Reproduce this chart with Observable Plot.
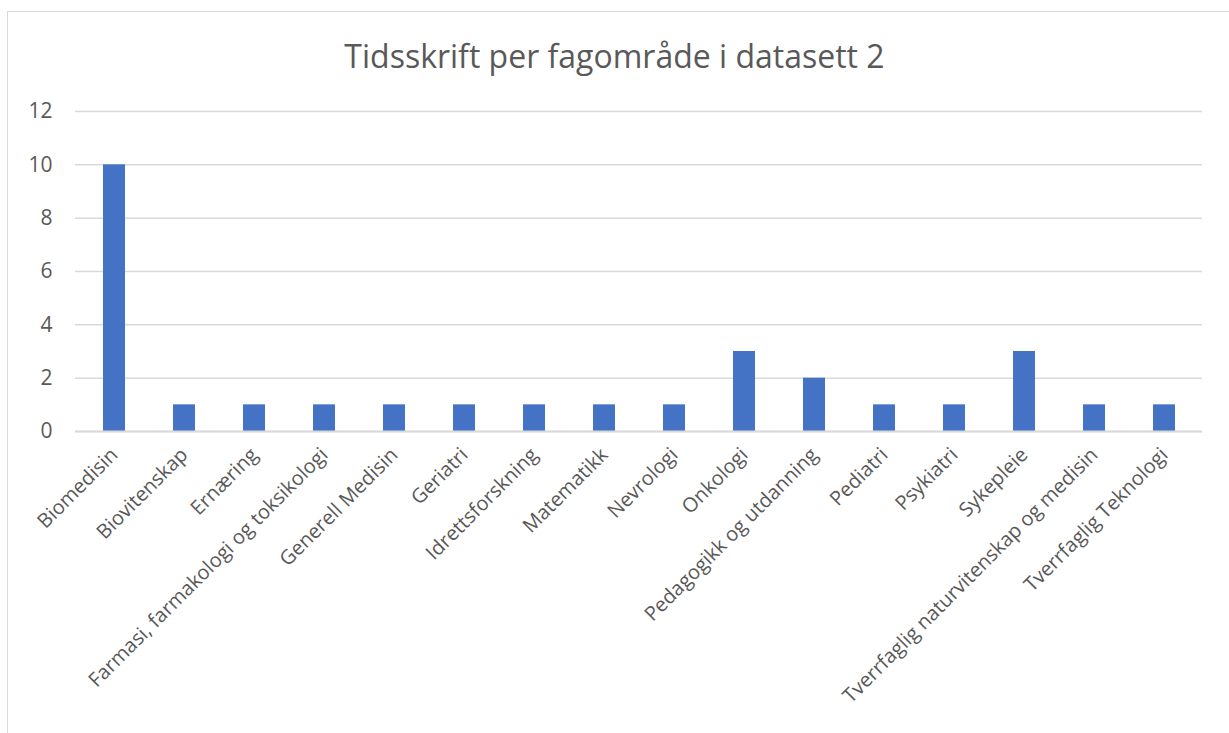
<!DOCTYPE html>
<html>
<head>
<meta charset="utf-8">
<script src="https://cdn.jsdelivr.net/npm/d3@7"></script>
<script src="https://cdn.jsdelivr.net/npm/@observablehq/plot@0.6"></script>
<style>
  html, body { margin: 0; padding: 0; background: #fff; overflow: hidden; }
  body { width: 1229px; height: 733px; position: relative; font-family: "Open Sans", sans-serif; }
  #frame { position: absolute; left: 7px; top: 11px; width: 1240px; height: 760px; border: 1.5px solid #d9d9d9; box-sizing: border-box; }
  #title { position: absolute; left: 0; top: 0; width: 1229px; height: 90px; text-align: center; font-size: 32px; color: #595959; line-height: 112px; }
  #chart { position: absolute; left: 0; top: 90px; }
  #chart svg g[aria-label="x-axis tick label"] text { font-size: 20px; }
  #chart svg g[aria-label="y-axis tick label"] text { font-size: 21px; }
</style>
</head>
<body>
<div id="frame"></div>
<div id="title">Tidsskrift per fagområde i datasett 2</div>
<div id="chart"></div>
<script>
const categories = [
  "Biomedisin", "Biovitenskap", "Ernæring", "Farmasi, farmakologi og toksikologi",
  "Generell Medisin", "Geriatri", "Idrettsforskning", "Matematikk", "Nevrologi",
  "Onkologi", "Pedagogikk og utdanning", "Pediatri", "Psykiatri", "Sykepleie",
  "Tverrfaglig naturvitenskap og medisin", "Tverrfaglig Teknologi"
];
const counts = [10, 1, 1, 1, 1, 1, 1, 1, 1, 3, 2, 1, 1, 3, 1, 1];
const yTicks = [0, 2, 4, 6, 8, 10, 12];

const data = categories.map((c, i) => ({ category: c, value: counts[i] }));

const chart = Plot.plot({
  width: 1229,
  height: 643,
  marginLeft: 75,
  marginRight: 27,
  marginTop: 21,
  marginBottom: 302,
  style: { fontFamily: "'Open Sans', sans-serif", fontSize: "20px", color: "#595959", background: "transparent" },
  x: { domain: categories, paddingInner: 0.69, paddingOuter: 0.345, label: null },
  y: { domain: [0, 12], label: null },
  marks: [
    Plot.gridY(yTicks, { stroke: "#d9d9d9", strokeOpacity: 1, strokeWidth: 1.5 }),
    Plot.barY(data, { x: "category", y: "value", fill: "#4472c4" }),
    Plot.ruleY([0], { stroke: "#d9d9d9", strokeWidth: 2 }),
    Plot.axisY(yTicks, { tickSize: 0, tickPadding: 23, fontSize: 21, fill: "#595959", label: null }),
    Plot.axisX({ tickSize: 0, tickPadding: 20, tickRotate: -45, fontSize: 20, fill: "#595959", label: null })
  ]
});
document.getElementById("chart").appendChild(chart);
</script>
</body>
</html>
